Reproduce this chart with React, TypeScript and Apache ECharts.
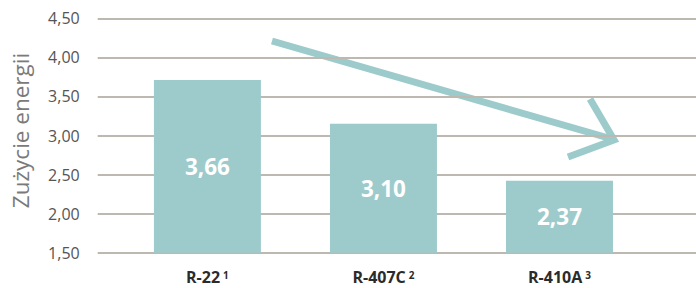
import React, { useEffect, useRef } from "react";
import * as echarts from "echarts";

const categories = ["R-22", "R-407C", "R-410A"];
const footnotes = ["1", "2", "3"];
const values = [3.66, 3.1, 2.37];
const yTicks = { min: 1.5, max: 4.5, interval: 0.5 };
const yName = "Zużycie energii";

const BAR = "#9dcbcc";
const GRIDLINE = "#bdb8b0";
const FONT = "Open Sans";

const fmt = (v: number) => v.toFixed(2).replace(".", ",");

export default function App() {
  const ref = useRef<HTMLDivElement>(null);
  useEffect(() => {
    if (!ref.current) return;
    const chart = echarts.init(ref.current, undefined, { renderer: "svg" });
    chart.setOption({
      animation: false,
      textStyle: { fontFamily: FONT },
      grid: [
        { left: 97.7, right: 0, top: 18.3, bottom: 35.3 },
        { left: 119.4, right: 48.5, top: 18.3, bottom: 35.3 },
      ],
      xAxis: [
        { gridIndex: 0, type: "value", show: false, min: 0, max: 1 },
        {
          gridIndex: 1,
          type: "category",
          data: categories,
          axisLine: { show: false },
          axisTick: { show: false },
          axisLabel: {
            margin: 17,
            lineHeight: 14,
            formatter: (v: string, i: number) => `{a|${v}}{s|${footnotes[i]}}`,
            rich: {
              a: { fontSize: 16, lineHeight: 14, fontWeight: "bold", color: "#2b2b2b", fontFamily: FONT },
              s: {
                fontSize: 10,
                lineHeight: 14,
                fontWeight: "bold",
                color: "#2b2b2b",
                verticalAlign: "top",
                padding: [0, 0, 0, 3],
                fontFamily: FONT,
              },
            },
          },
        },
      ],
      yAxis: [
        {
          gridIndex: 0,
          type: "value",
          min: yTicks.min,
          max: yTicks.max,
          interval: yTicks.interval,
          name: yName,
          nameLocation: "middle",
          nameGap: 66,
          nameTextStyle: {
            fontSize: 22.5,
            color: "#7a7a7a",
            fontFamily: FONT,
            padding: [0, 0, 0, 10],
          },
          axisLine: { show: false },
          axisTick: { show: false },
          axisLabel: {
            margin: 18,
            fontSize: 16,
            color: "#555555",
            fontFamily: FONT,
            padding: [10, 0, 0, 0],
            formatter: (v: number) => fmt(v),
          },
          splitLine: { lineStyle: { color: GRIDLINE, width: 2 } },
        },
        {
          gridIndex: 1,
          type: "value",
          show: false,
          min: 1.45,
          max: 4.45,
          splitLine: { show: false },
        },
      ],
      series: [
        {
          type: "bar",
          xAxisIndex: 1,
          yAxisIndex: 1,
          data: values,
          barWidth: 107,
          itemStyle: { color: BAR },
          label: {
            show: true,
            position: "inside",
            color: "#ffffff",
            fontSize: 22.5,
            fontWeight: "bold",
            fontFamily: FONT,
            formatter: (p: any) => fmt(p.value),
          },
        },
      ],
      graphic: [
        {
          type: "line",
          shape: { x1: 272, y1: 41, x2: 612, y2: 139 },
          style: { stroke: BAR, lineWidth: 7, lineCap: "butt" },
          silent: true,
        },
        {
          type: "polyline",
          shape: { points: [[590, 99], [614, 140], [568, 157]] },
          style: { stroke: BAR, lineWidth: 7, lineCap: "butt", lineJoin: "miter", fill: null },
          silent: true,
        },
      ],
    });
    return () => chart.dispose();
  }, []);
  return (
    <div
      ref={ref}
      style={{ position: "fixed", left: 0, top: 0, width: 696, height: 288, background: "#fff" }}
    />
  );
}
